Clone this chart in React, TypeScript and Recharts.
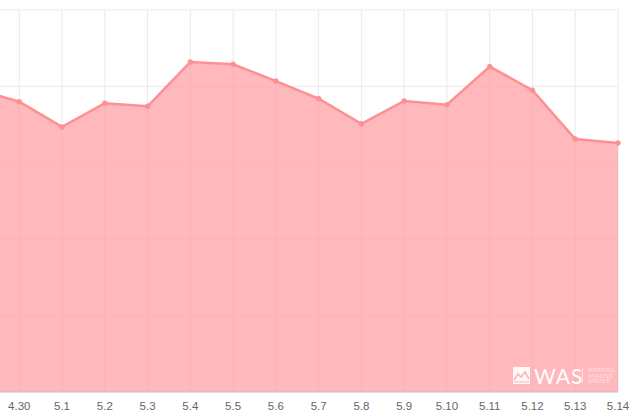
import { Area, AreaChart, CartesianGrid, XAxis, YAxis } from "recharts";

const days = ["4.29", "4.30", "5.1", "5.2", "5.3", "5.4", "5.5", "5.6", "5.7", "5.8", "5.9", "5.10", "5.11", "5.12", "5.13", "5.14"];
const visits = [396, 380, 347, 378, 374, 432, 429, 407, 384, 351, 381, 376, 426, 395, 331, 326];
const yTicks = [0, 100, 200, 300, 400, 500];

const rows = days.map((day, i) => ({ day, visits: visits[i] }));

function Watermark() {
  return (
    <div style={{ position: "absolute", left: 513, top: 366, width: 100, height: 22, color: "#fff" }}>
      <svg width={17} height={17} style={{ position: "absolute", left: 0, top: 1 }}>
        <rect x={0} y={0} width={17} height={17} fill="#fff" opacity={0.9} />
        <polyline points="1,13 5,7 8,10 12,5 16,12" fill="none" stroke="#ffb5b8" strokeWidth={1.6} />
        <polyline points="1,15 16,15" fill="none" stroke="#ffb5b8" strokeWidth={1} />
      </svg>
      <span style={{ position: "absolute", left: 21, top: -1, fontFamily: "Lato", fontSize: 21, fontWeight: 400, letterSpacing: 1, lineHeight: "22px" }}>WAS</span>
      <div style={{ position: "absolute", left: 69, top: 2, width: 1, height: 15, background: "#ffdcdd" }} />
      <div style={{ position: "absolute", left: 75, top: 2, fontFamily: "Lato", fontSize: 5.5, lineHeight: "5.5px", color: "#ffe3e4" }}>
        WEBTOOL
        <br />
        ANALYSIS
        <br />
        SERVICE
      </div>
    </div>
  );
}

export default function App() {
  return (
    <div style={{ position: "fixed", left: 0, top: 0, width: 640, height: 420, overflow: "hidden", background: "#fff" }}>
      <AreaChart
        width={640}
        height={420}
        data={rows}
        margin={{ top: 10, right: 22, bottom: 0, left: -23.5 }}
      >
        <CartesianGrid stroke="#e9ebee" strokeWidth={1} />
        <XAxis
          dataKey="day"
          interval={0}
          height={28}
          tickLine={false}
          axisLine={{ stroke: "#c9c4c4" }}
          tick={{ fill: "#666", fontSize: 11.5, fontFamily: "Liberation Sans" }}
          tickFormatter={(d: string) => (d === days[0] ? "" : d)}
          tickMargin={4}
        />
        <YAxis hide domain={[0, 500]} ticks={yTicks} />
        <Area
          type="linear"
          dataKey="visits"
          stroke="#fe8f93"
          strokeWidth={2.5}
          fill="#ff9da1"
          fillOpacity={0.72}
          dot={{ r: 2.5, fill: "#fe8f93", stroke: "#fe8f93", strokeWidth: 0.5, fillOpacity: 1 }}
          isAnimationActive={false}
        />
      </AreaChart>
      <Watermark />
    </div>
  );
}
